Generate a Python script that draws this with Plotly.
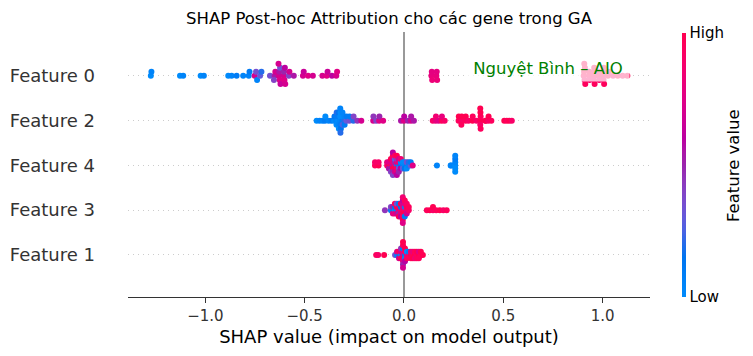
import numpy as np
import plotly.graph_objects as go

# ---------------- data ----------------
TITLE = "SHAP Post-hoc Attribution cho các gene trong GA"
X_LABEL = "SHAP value (impact on model output)"
CBAR_LABEL = "Feature value"
CBAR_TICKS = ["Low", "High"]
WATERMARK = "Nguyệt Bình – AIO"
FEATURES = ["Feature 0", "Feature 2", "Feature 4", "Feature 3", "Feature 1"]  # top -> bottom
X_TICK_VALUES = [-1.0, -0.5, 0.0, 0.5, 1.0]
X_TICK_LABELS = ["−1.0", "−0.5", "0.0", "0.5", "1.0"]

F0_SHAP = [-1.275, -1.272, -1.128, -1.112, -1.024, -1.008, -0.885, -0.868, -0.843, -0.810,
           -0.782, -0.778, -0.752, -0.745, -0.740, -0.725, -0.718, -0.675,
           -0.651, -0.648, -0.655,
           -0.630, -0.628, -0.626, -0.624, -0.622, -0.632,
           -0.606, -0.604, -0.602, -0.600, -0.598,
           -0.580, -0.577, -0.555, -0.509, -0.505, -0.483, -0.459, -0.411,
           -0.389, -0.385, -0.363, -0.341, -0.337,
           0.138, 0.140, 0.142, 0.163, 0.165, 0.167,
           0.905, 0.907, 0.909, 0.911, 0.913, 0.908,
           0.931, 0.933, 0.935,
           0.955, 0.956, 0.957, 0.958, 0.960,
           0.979, 0.981, 0.983,
           1.003, 1.004, 1.005, 1.006, 1.008,
           1.027, 1.031, 1.053, 1.077, 1.101, 1.125]
F0_VALUE = [0.0, 0.05, 0.0, 0.05, 0.0, 0.05, 0.0, 0.05, 0.1, 0.05,
            0.05, 0.1, 0.7, 0.35, 0.05, 0.3, 0.2, 0.35,
            0.55, 0.7, 0.4,
            0.7, 0.55, 0.75, 0.35, 0.65, 0.7,
            0.7, 0.5, 0.75, 0.6, 0.7,
            0.4, 0.7, 0.55, 0.7, 0.65, 0.75, 0.7, 0.7,
            0.75, 0.65, 0.6, 0.7, 0.75,
            0.8, 0.78, 0.82, 0.8, 0.78, 0.82,
            0.95, 1.0, 0.9, 1.0, 0.95, 1.0,
            0.95, 1.0, 0.9,
            1.0, 0.95, 0.9, 1.0, 0.95,
            1.0, 0.95, 0.9,
            0.95, 1.0, 0.9, 1.0, 0.95,
            1.0, 0.95, 0.9, 1.0, 0.95, 1.0]

F2_SHAP = [-0.440, -0.425, -0.410, -0.398, -0.396, -0.380, -0.365, -0.352, -0.350,
           -0.342, -0.341, -0.340, -0.339,
           -0.332, -0.331, -0.330, -0.329, -0.328,
           -0.322, -0.321, -0.320, -0.319, -0.318, -0.321, -0.320,
           -0.311, -0.310, -0.309, -0.310,
           -0.301, -0.300, -0.299, -0.290, -0.289, -0.275, -0.274, -0.255, -0.254,
           -0.235, -0.215, -0.155, -0.154, -0.140, -0.125, -0.124, -0.105,
           -0.015, 0.000, 0.001, 0.020, 0.035, 0.036, 0.050,
           0.145, 0.160, 0.161, 0.175, 0.190, 0.191, 0.205,
           0.275, 0.276, 0.290, 0.291, 0.289, 0.310, 0.311, 0.325, 0.345, 0.346, 0.365,
           0.385, 0.386, 0.384, 0.385, 0.386, 0.384,
           0.410, 0.411, 0.425, 0.426, 0.440,
           0.505, 0.518, 0.530, 0.543]
F2_VALUE = [0.0, 0.05, 0.05, 0.1, 0.0, 0.05, 0.1, 0.0, 0.15,
            0.05, 0.1, 0.0, 0.2,
            0.0, 0.1, 0.05, 0.15, 0.0,
            0.05, 0.0, 0.1, 0.0, 0.15, 0.05, 0.2,
            0.1, 0.0, 0.25, 0.05,
            0.2, 0.05, 0.1, 0.3, 0.1, 0.35, 0.1, 0.2, 0.4,
            0.45, 0.7, 0.7, 0.45, 0.4, 0.75, 0.5, 0.75,
            0.55, 0.75, 0.6, 0.5, 0.7, 0.55, 0.55,
            0.9, 0.8, 0.85, 0.75, 0.95, 0.8, 0.9,
            0.95, 1.0, 0.9, 1.0, 0.95, 0.95, 1.0, 0.9, 1.0, 0.95, 0.9,
            1.0, 0.95, 0.9, 1.0, 0.95, 1.0,
            0.95, 1.0, 0.9, 1.0, 0.95,
            1.0, 0.95, 1.0, 0.9]

F4_SHAP = [-0.146, -0.146, -0.128, -0.128, -0.085, -0.085,
           -0.076, -0.076, -0.076,
           -0.066, -0.066, -0.066, -0.066, -0.066,
           -0.056, -0.056, -0.056, -0.056, -0.056, -0.056, -0.056, -0.056,
           -0.046, -0.046, -0.046, -0.046, -0.046, -0.046,
           -0.036, -0.036, -0.036, -0.036, -0.036, -0.036, -0.036,
           -0.026, -0.026, -0.026, -0.026, -0.026,
           -0.016, -0.016, -0.016, -0.016,
           -0.006, -0.006, -0.006, 0.004, 0.004, 0.004, 0.014, 0.014, 0.014,
           0.024, 0.024, 0.034, 0.034, 0.044,
           0.166, 0.235, 0.237,
           0.258, 0.258, 0.258, 0.258, 0.258, 0.258]
F4_VALUE = [0.95, 0.9, 1.0, 0.9, 0.9, 0.8,
            1.0, 0.75, 0.55,
            0.95, 0.75, 0.55, 1.0, 0.4,
            0.55, 0.8, 1.0, 0.75, 0.5, 0.95, 0.4, 0.6,
            0.85, 0.5, 1.0, 0.3, 0.7, 0.9,
            0.2, 0.75, 0.95, 0.45, 0.8, 1.0, 0.6,
            0.1, 0.9, 0.35, 0.7, 0.5,
            0.15, 0.05, 0.6, 0.85,
            0.1, 0.0, 0.3, 0.05, 0.0, 0.15, 0.1, 0.35, 0.0,
            0.05, 0.2, 0.3, 0.1, 0.75,
            0.05, 0.0, 0.05,
            0.0, 0.05, 0.0, 0.1, 0.0, 0.05]

F3_SHAP = [-0.096, -0.066, -0.066, -0.056, -0.056, -0.056,
           -0.046, -0.046, -0.046, -0.046,
           -0.036, -0.036, -0.036, -0.036,
           -0.026, -0.026, -0.026, -0.026, -0.026,
           -0.016, -0.016, -0.016, -0.016, -0.016,
           -0.006, -0.006, -0.006, -0.006, -0.006, -0.006, -0.006, -0.006, -0.006,
           0.004, 0.004, 0.004, 0.004, 0.004, 0.004,
           0.014, 0.014, 0.014, 0.014, 0.024, 0.024,
           0.115, 0.130, 0.146, 0.146, 0.162, 0.180, 0.198, 0.215]
F3_VALUE = [0.45, 0.05, 0.4, 0.1, 0.5, 0.75,
            0.0, 0.15, 0.8, 0.95,
            0.05, 1.0, 0.7, 0.35,
            0.8, 0.95, 0.5, 0.1, 1.0,
            0.9, 0.15, 0.75, 1.0, 0.6,
            0.95, 0.8, 1.0, 0.7, 0.9, 0.6, 1.0, 0.85, 0.75,
            0.9, 0.2, 1.0, 0.75, 0.1, 0.95,
            0.85, 1.0, 0.7, 0.9, 0.9, 0.95,
            0.95, 1.0, 0.9, 1.0, 0.95, 1.0, 0.9, 0.95]

F1_SHAP = [-0.140, -0.130, -0.100, -0.045, -0.035, -0.035,
           -0.025, -0.025, -0.025, -0.015, -0.015, -0.015, -0.015,
           -0.005, -0.005, -0.005, -0.005, -0.005, -0.005, -0.005, -0.005, -0.005,
           0.005, 0.005, 0.005, 0.005, 0.005, 0.015, 0.015, 0.015, 0.025, 0.025,
           0.035, 0.035, 0.035, 0.045, 0.045, 0.045, 0.055, 0.055, 0.055,
           0.065, 0.065, 0.065, 0.075, 0.075, 0.075, 0.085, 0.085, 0.095]
F1_VALUE = [0.95, 0.9, 1.0, 0.35, 0.05, 0.8,
            0.1, 0.95, 0.7, 0.0, 0.75, 1.0, 0.45,
            0.55, 0.8, 1.0, 0.1, 0.75, 0.95, 0.5, 1.0, 0.7,
            0.15, 0.9, 0.05, 1.0, 0.6, 0.8, 0.0, 0.95, 0.9, 0.1,
            1.0, 0.9, 0.95, 0.95, 0.8, 1.0, 1.0, 0.95, 0.85,
            0.9, 1.0, 0.95, 1.0, 0.75, 0.95, 0.95, 1.0, 1.0]

SHAP = {"Feature 0": F0_SHAP, "Feature 2": F2_SHAP, "Feature 4": F4_SHAP,
        "Feature 3": F3_SHAP, "Feature 1": F1_SHAP}
VALUE = {"Feature 0": F0_VALUE, "Feature 2": F2_VALUE, "Feature 4": F4_VALUE,
         "Feature 3": F3_VALUE, "Feature 1": F1_VALUE}


# ---------------- shap red_blue colormap (LCH interpolation) ----------------
def lch_to_rgb(l, c, h):
    a, b = c * np.cos(h), c * np.sin(h)
    fy = (l + 16) / 116
    fx, fz = fy + a / 500, fy - b / 200

    def finv(t):
        return t ** 3 if t > 6 / 29 else 3 * (6 / 29) ** 2 * (t - 4 / 29)

    X, Y, Z = 0.95047 * finv(fx), finv(fy), 1.08883 * finv(fz)
    M = np.array([[3.2406, -1.5372, -0.4986], [-0.9689, 1.8758, 0.0415], [0.0557, -0.2040, 1.0570]])
    lin = M @ np.array([X, Y, Z])
    out = [1.055 * v ** (1 / 2.4) - 0.055 if v > 0.0031308 else 12.92 * v for v in np.clip(lin, 0, 1)]
    return tuple(int(round(255 * min(max(v, 0), 1))) for v in out)


def red_blue_scale(n=21):
    blue = (54.0, 70.0, 4.6588)
    red = (54.0, 90.0, 0.35470565 + 2 * np.pi)
    stops = []
    for i in range(n):
        t = i / (n - 1)
        l = blue[0] + (40.0 - blue[0]) * (t / 0.5) if t <= 0.5 else 40.0 + (red[0] - 40.0) * ((t - 0.5) / 0.5)
        c = blue[1] + (red[1] - blue[1]) * t
        h = blue[2] + (red[2] - blue[2]) * t
        r, g, b = lch_to_rgb(l, c, h)
        stops.append([t, f"rgb({r},{g},{b})"])
    return stops


# ---------------- beeswarm layout (shap algorithm) ----------------
def swarm(vals, row_height=0.4, nbins=100):
    v = np.asarray(vals, dtype=float)
    quant = np.round(nbins * (v - v.min()) / (v.max() - v.min() + 1e-8))
    inds = np.argsort(quant, kind="stable")
    ys = np.zeros(len(v))
    layer, last = 0, None
    for ind in inds:
        if quant[ind] != last:
            layer = 0
        ys[ind] = np.ceil(layer / 2) * ((layer % 2) * 2 - 1)
        layer += 1
        last = quant[ind]
    ys *= 0.9 * (row_height / np.max(ys + 1))
    return ys


xs, ys, cs = [], [], []
n_feat = len(FEATURES)
for pos, name in enumerate(FEATURES):
    row = n_feat - 1 - pos
    off = swarm(SHAP[name])
    xs.extend(SHAP[name])
    ys.extend(row + off)
    cs.extend(VALUE[name])

fig = go.Figure(go.Scatter(
    x=xs, y=ys, mode="markers",
    marker=dict(size=6, color=cs, coloraxis="coloraxis", line=dict(width=0), opacity=1),
    hoverinfo="skip",
))

PL, PR, PT, PB = 128, 103, 32, 59
W, H = 753, 356
pw, ph = W - PL - PR, H - PT - PB

fig.update_layout(
    width=W, height=H,
    margin=dict(l=PL, r=PR, t=PT, b=PB, autoexpand=False),
    paper_bgcolor="white", plot_bgcolor="white",
    font=dict(family="DejaVu Sans", color="#333333"),
    showlegend=False,
    title=dict(text=TITLE, x=0.5, xref="paper", xanchor="center",
               y=1 - 18 / H, yref="container", yanchor="middle",
               font=dict(size=16.5, color="black")),
    xaxis=dict(range=[-1.39, 1.239], tickvals=X_TICK_VALUES, ticktext=X_TICK_LABELS,
               ticks="outside", ticklen=5, tickwidth=1, tickcolor="#333333",
               showline=True, linecolor="#333333", linewidth=1, showgrid=False,
               zeroline=True, zerolinecolor="#999999", zerolinewidth=2,
               tickfont=dict(size=15, color="#333333"),
               title=dict(text=X_LABEL, font=dict(size=18, color="black"), standoff=6),
               automargin=False),
    yaxis=dict(range=[-0.94, 4.98], tickvals=list(range(n_feat - 1, -1, -1)), ticktext=FEATURES,
               ticks="", showgrid=True, gridcolor="#cccccc", gridwidth=1, griddash="1px,4px",
               zeroline=False, showline=False, tickfont=dict(size=18, color="#333333"),
               ticklabelstandoff=32, automargin=False),
    coloraxis=dict(colorscale=red_blue_scale(), cmin=0, cmax=1,
                   colorbar=dict(x=(682 - PL) / pw, xanchor="left", xpad=0,
                                 thickness=4, lenmode="pixels", len=264,
                                 y=(H - PB - 165) / ph, yanchor="middle", ypad=0,
                                 outlinewidth=0, tickvals=[0, 1], ticktext=CBAR_TICKS,
                                 ticks="", tickfont=dict(size=15, color="black"))),
    annotations=[
        dict(text=WATERMARK, x=(548 - 404) / 198.5, y=4 + (76 - 68.5) / 44.75,
             xref="x", yref="y", showarrow=False, font=dict(size=16.5, color="green"),
             bgcolor="rgba(255,255,255,0.7)", width=160, height=24, borderpad=1),
        dict(text=CBAR_LABEL, x=(733 - PL) / pw, y=(H - PB - 166) / ph, xref="paper", yref="paper",
             xanchor="center", yanchor="middle",
             showarrow=False, textangle=-90, font=dict(size=16.5, color="black")),
    ],
)

fig.write_html("out.html", config={"displayModeBar": False},
               post_script="document.body.style.margin='0px';document.body.style.overflow='hidden';")
